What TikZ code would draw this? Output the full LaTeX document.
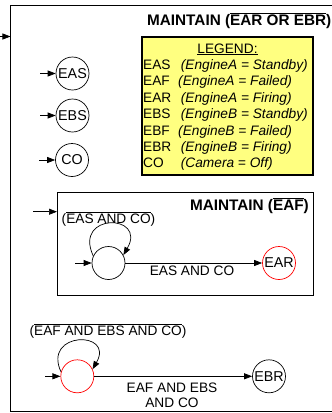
\documentclass[tikz,border=0pt]{standalone}
\usepackage{fontspec}
\setmainfont{Liberation Sans}
\usetikzlibrary{arrows.meta}
\definecolor{legendyellow}{RGB}{255,255,128}
\newcommand{\ovl}[1]{\ensuremath{\overline{\mbox{#1}}}}
\begin{document}
\begin{tikzpicture}[x=1pt,y=1pt,
  every node/.style={font=\fontsize{13.7}{16}\selectfont},
  arr/.style={-{Triangle[length=8pt,width=6pt]}, line width=0.7pt},
  st/.style={circle, draw, minimum size=33pt, inner sep=0pt, line width=0.7pt, font=\fontsize{14.3}{16}\selectfont},
  redst/.style={st, draw=red},
  ttl/.style={font=\fontsize{15.3}{18}\selectfont\bfseries, anchor=base east, inner sep=0pt},
  lbl/.style={anchor=base, inner sep=0pt},
  lgline/.style={anchor=base west, inner sep=0pt},
  frame/.style={draw, anchor=north west, inner sep=0pt, outer sep=0pt},
]
\useasboundingbox (0,0) rectangle (332,-413);
% outer box
\node[frame, line width=1.8pt, minimum width=330pt, minimum height=406pt] (outer) at (10.5,-5.5) {};
\coordinate (oin) at (0,-36.5);
\draw[arr] (oin) -- (oin -| outer.west);
\node[ttl] (otitle) at (331.5,-25.5) {MAINTAIN (\ovl{EAR OR EBR})};
% legend
\node[frame, fill=legendyellow, line width=2pt, minimum width=171.6pt, minimum height=137.7pt] (legend) at (141.7,-37.3) {};
\node[lbl] (lgh) at (227.5,-53) {\underline{LEGEND:}};
\node[lgline] (l1) at (143,-69.5) {\makebox[37.7pt][l]{EAS}\textit{(EngineA = Standby)}};
\node[lgline] (l2) at (143,-85.9) {\makebox[35pt][l]{EAF}\textit{(EngineA = Failed)}};
\node[lgline] (l3) at (143,-102.3) {\makebox[37.7pt][l]{EAR}\textit{(EngineA = Firing)}};
\node[lgline] (l4) at (143,-118.7) {\makebox[37.7pt][l]{EBS}\textit{(EngineB = Standby)}};
\node[lgline] (l5) at (143,-135.1) {\makebox[35pt][l]{EBF}\textit{(EngineB = Failed)}};
\node[lgline] (l6) at (143,-151.5) {\makebox[37.7pt][l]{EBR}\textit{(EngineB = Firing)}};
\node[lgline] (l7) at (143,-167.9) {\makebox[37.7pt][l]{CO}\textit{(Camera = Off)}};
% initial states
\node[st] (eas) at (72.5,-73.5) {EAS};
\node[st] (ebs) at (72.5,-115.5) {EBS};
\node[st] (co) at (72,-160) {CO};
\coordinate (easin) at (40,-73.5);
\coordinate (ebsin) at (40,-115.5);
\coordinate (coin) at (39,-160);
\draw[arr] (easin) -- (eas);
\draw[arr] (ebsin) -- (ebs);
\draw[arr] (coin) -- (co);
% inner box
\node[frame, line width=1pt, minimum width=256pt, minimum height=103pt] (inner) at (57,-192) {};
\coordinate (iin) at (33,-211.7);
\draw[arr] (iin) -- (iin -| inner.west);
\node[ttl] (ititle) at (309,-210.5) {MAINTAIN (\ovl{EAF})};
\node[lbl] (g1) at (108.5,-223.5) {(\ovl{EAS AND CO})};
\node[st] (s1) at (108.5,-263) {};
\node[redst] (ear) at (279,-263) {EAR};
\coordinate (s1in) at (75,-263);
\draw[arr] (s1in) -- (s1);
\draw[arr] (s1.155) .. controls +(115:48pt) and +(60:48pt) .. (s1.28);
\draw[arr] (s1) -- (ear);
\node[lbl] (e1) at (192,-275.7) {EAS AND CO};
% bottom
\node[lbl] (g2) at (108,-335) {(\ovl{EAF AND EBS AND CO})};
\node[redst] (s2) at (77.3,-376.3) {};
\node[st] (ebr) at (269,-376.3) {EBR};
\coordinate (s2in) at (45,-376.3);
\draw[arr] (s2in) -- (s2);
\draw[arr] (s2.165) .. controls +(115:45pt) and +(60:45pt) .. (s2.25);
\draw[arr] (s2) -- (ebr);
\node[lbl] (e2a) at (172,-392) {EAF AND EBS};
\node[lbl] (e2b) at (172,-407) {AND CO};
\end{tikzpicture}
\end{document}
